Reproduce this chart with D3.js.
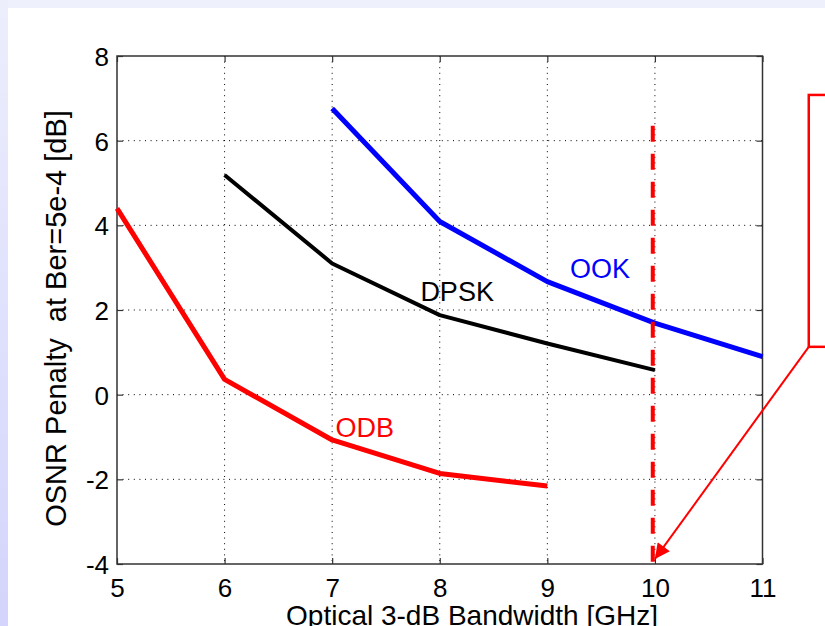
<!DOCTYPE html>
<html>
<head>
<meta charset="utf-8">
<script src="https://cdn.jsdelivr.net/npm/d3@7"></script>
<style>
  body { margin: 0; background: #eef0fc; }
  text { font-family: "Liberation Sans", Arial, sans-serif; }
</style>
</head>
<body>
<div id="box1" style="width:825px;height:626px;">
  <svg id="box1_svg"></svg>
</div>
<script>
"use strict";

// x ticks and y ticks
const x_ticks = [5, 6, 7, 8, 9, 10, 11];
const y_ticks = [-4, -2, 0, 2, 4, 6, 8];

// series: optical bandwidth [GHz] and OSNR penalty [dB]
const ook_x = [7, 8, 9, 10, 11];
const ook_y = [6.76, 4.09, 2.67, 1.69, 0.90];

const dpsk_x = [6, 7, 8, 9, 10];
const dpsk_y = [5.19, 3.10, 1.88, 1.21, 0.58];

const odb_x = [5, 6, 7, 8, 9];
const odb_y = [4.40, 0.36, -1.07, -1.86, -2.16];

// label names and where they sit (data units)
const series_names = ['OOK', 'DPSK', 'ODB'];
const label_x = [9.21, 7.82, 7.03];
const label_y = [2.76, 2.22, -1.0];

// red marker line at 10 GHz
const marker_x = [9.98];
const marker_y = [6.35, -4];

const render = () => {
  const width = 825, height = 626;
  const m = { left: 117, top: 56, right: 762.5, bottom: 564 };

  const svg = d3.select('#box1_svg')
    .attr('width', width)
    .attr('height', height);

  // slide background
  const defs = svg.append('defs');
  const grad = defs.append('linearGradient')
    .attr('id', 'side_grad')
    .attr('x1', 0).attr('y1', 0).attr('x2', 0).attr('y2', 1);
  grad.append('stop').attr('offset', '0%').attr('stop-color', '#eceefc');
  grad.append('stop').attr('offset', '100%').attr('stop-color', '#d4d4fc');

  svg.append('rect').attr('width', width).attr('height', height).attr('fill', '#eef0fc');
  svg.append('rect').attr('width', 8).attr('height', height).attr('fill', 'url(#side_grad)');
  svg.append('rect').attr('x', 8).attr('y', 8)
    .attr('width', width - 8).attr('height', height - 8).attr('fill', '#ffffff');

  const x = d3.scaleLinear().domain([5, 11]).range([m.left, m.right]);
  const y = d3.scaleLinear().domain([-4, 8]).range([m.bottom, m.top]);

  const g = svg.append('g');

  // dotted grid
  g.selectAll('.vgrid')
    .data(x_ticks.slice(1, -1))
    .join('line')
    .attr('x1', d => x(d)).attr('x2', d => x(d))
    .attr('y1', m.top).attr('y2', m.bottom)
    .attr('stroke', '#000').attr('stroke-width', 1)
    .attr('stroke-dasharray', '1,4.6');

  g.selectAll('.hgrid')
    .data(y_ticks.slice(1, -1))
    .join('line')
    .attr('x1', m.left).attr('x2', m.right)
    .attr('y1', d => y(d)).attr('y2', d => y(d))
    .attr('stroke', '#000').attr('stroke-width', 1)
    .attr('stroke-dasharray', '1,4.6');

  // axes (inward ticks on all sides), plain hyphen for minus like matlab
  const fmt = d => String(d);
  const style_axis = sel => {
    sel.select('.domain').remove();
    sel.selectAll('.tick line').attr('stroke', '#333').attr('stroke-width', 1.2);
    sel.selectAll('text')
      .attr('fill', '#000')
      .style('font-family', '"Liberation Sans", Arial, sans-serif')
      .style('font-size', '26px');
  };

  g.append('g')
    .attr('transform', `translate(0,${m.bottom})`)
    .call(d3.axisBottom(x).tickValues(x_ticks).tickSizeInner(-6).tickFormat(fmt))
    .call(style_axis)
    .selectAll('text').attr('y', 33).attr('dy', null);

  g.append('g')
    .attr('transform', `translate(0,${m.top})`)
    .call(d3.axisTop(x).tickValues(x_ticks).tickSizeInner(-6).tickFormat(''))
    .call(style_axis);

  g.append('g')
    .attr('transform', `translate(${m.left},0)`)
    .call(d3.axisLeft(y).tickValues(y_ticks).tickSizeInner(-6).tickFormat(fmt))
    .call(style_axis)
    .selectAll('text').attr('x', -8).attr('dy', '0.36em');

  g.append('g')
    .attr('transform', `translate(${m.right},0)`)
    .call(d3.axisRight(y).tickValues(y_ticks).tickSizeInner(-6).tickFormat(''))
    .call(style_axis);

  // frame
  g.append('rect')
    .attr('x', m.left).attr('y', m.top)
    .attr('width', m.right - m.left).attr('height', m.bottom - m.top)
    .attr('fill', 'none').attr('stroke', '#333').attr('stroke-width', 1.5);

  // curves
  const line = d3.line().x(d => x(d[0])).y(d => y(d[1]));
  const series = [
    { xs: ook_x, ys: ook_y, color: '#0000ff', w: 5 },
    { xs: dpsk_x, ys: dpsk_y, color: '#000000', w: 4 },
    { xs: odb_x, ys: odb_y, color: '#ff0000', w: 5 }
  ];

  g.selectAll('.curve')
    .data(series)
    .join('path')
    .attr('d', s => line(d3.zip(s.xs, s.ys)))
    .attr('fill', 'none')
    .attr('stroke', s => s.color)
    .attr('stroke-width', s => s.w)
    .attr('stroke-linejoin', 'round');

  g.selectAll('.curve_label')
    .data(series_names)
    .join('text')
    .text(d => d)
    .attr('x', (d, i) => x(label_x[i]))
    .attr('y', (d, i) => y(label_y[i]))
    .attr('fill', (d, i) => series[i].color)
    .attr('font-size', 27);

  // dashed red marker
  g.append('line')
    .attr('x1', x(marker_x[0])).attr('x2', x(marker_x[0]))
    .attr('y1', y(marker_y[0])).attr('y2', y(marker_y[1]))
    .attr('stroke', '#ff0000').attr('stroke-width', 4)
    .attr('stroke-dasharray', '16,12');

  // axis titles
  svg.append('text')
    .text('Optical 3-dB Bandwidth [GHz]')
    .attr('x', x(8.3)).attr('y', 625)
    .attr('text-anchor', 'middle')
    .attr('font-size', 28);

  svg.append('text')
    .text('OSNR Penalty  at Ber=5e-4 [dB]')
    .attr('transform', `translate(66,${y(1.8)}) rotate(-90)`)
    .attr('text-anchor', 'middle')
    .attr('font-size', 29)
    .style('white-space', 'pre');

  // annotation box with arrow
  const box_left = x(11.43), box_top = y(7.08), box_bottom = y(1.13);
  svg.append('rect')
    .attr('x', box_left).attr('y', box_top)
    .attr('width', 60).attr('height', box_bottom - box_top)
    .attr('fill', '#fff').attr('stroke', '#ff0000').attr('stroke-width', 2.5);

  defs.append('marker')
    .attr('id', 'arrow_head')
    .attr('viewBox', '0 0 10 10')
    .attr('refX', 10).attr('refY', 5)
    .attr('markerWidth', 20).attr('markerHeight', 15)
    .attr('markerUnits', 'userSpaceOnUse')
    .attr('orient', 'auto')
    .append('path')
    .attr('d', 'M0,0 L10,5 L0,10 Z')
    .attr('fill', '#ff0000');

  svg.append('line')
    .attr('x1', box_left).attr('y1', box_bottom)
    .attr('x2', x(10.0)).attr('y2', y(-3.88))
    .attr('stroke', '#ff0000').attr('stroke-width', 2)
    .attr('marker-end', 'url(#arrow_head)');
};

render();
</script>
</body>
</html>
